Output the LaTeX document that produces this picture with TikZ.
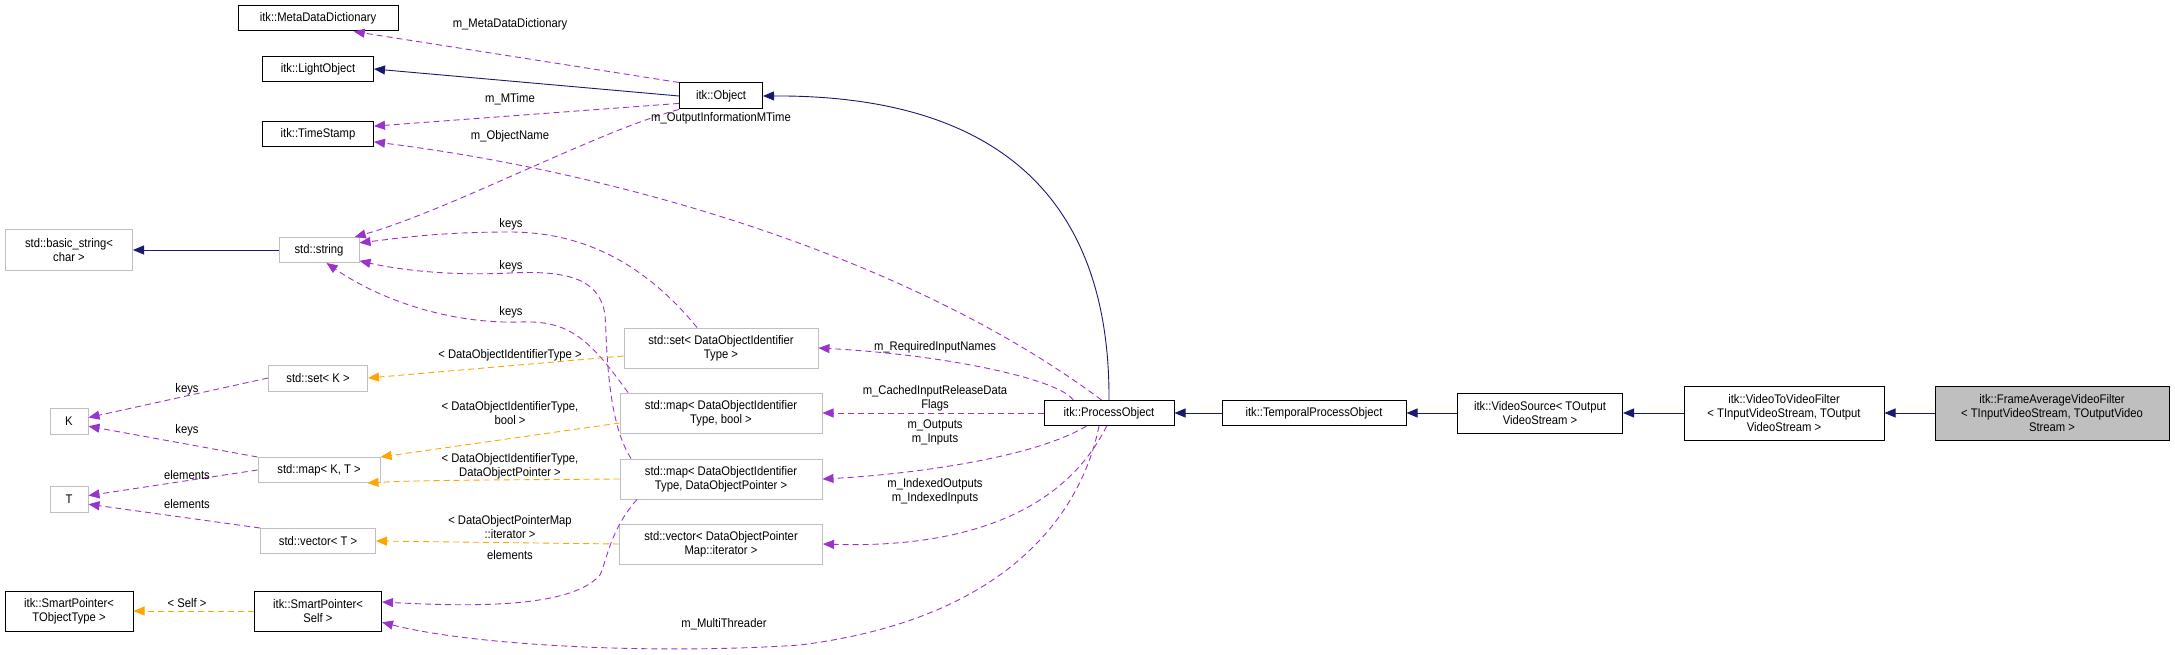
\documentclass[tikz,border=0pt]{standalone}
\usepackage{fontspec}
\setmainfont{Liberation Sans}[FakeStretch=0.9]
\usetikzlibrary{arrows.meta}
\definecolor{inh}{HTML}{191970}
\definecolor{use}{HTML}{9A32CD}
\definecolor{tpl}{HTML}{FFA500}
\definecolor{gb}{HTML}{BFBFBF}
\begin{document}
\begin{tikzpicture}[x=1pt,y=-1pt,font=\fontsize{12.5}{14}\selectfont,
  box/.style={draw=black,line width=1pt,fill=white,align=center,inner sep=1pt},
  sbox/.style={draw=gb,line width=1pt,fill=white,align=center,inner sep=1pt},
  tip/.style={-{Triangle[length=11pt,width=9pt]}},
  inhe/.style={tip,draw=inh,line width=0.9pt},
  usee/.style={tip,draw=use,line width=0.9pt,dash pattern=on 6pt off 4pt},
  tple/.style={tip,draw=tpl,line width=0.9pt,dash pattern=on 6pt off 4pt},
  lab/.style={align=center,inner sep=0pt,font=\fontsize{12.5}{14}\selectfont}]
\useasboundingbox (0,0) rectangle (2175,655);
% nodes
\node[box,minimum width=160,minimum height=25] (meta) at (318,18.5) {itk::MetaDataDictionary};
\node[box,minimum width=111,minimum height=25] (light) at (318,69) {itk::LightObject};
\node[box,minimum width=111,minimum height=25] (ts) at (318,134) {itk::TimeStamp};
\node[box,minimum width=83,minimum height=26] (obj) at (721,96) {itk::Object};
\node[sbox,minimum width=127,minimum height=41] (bstr) at (69,250) {std::basic\_string\textless\\char \textgreater};
\node[sbox,minimum width=80,minimum height=25] (str) at (319,250) {std::string};
\node[sbox,minimum width=99,minimum height=26] (setk) at (318,378) {std::set\textless{} K \textgreater};
\node[sbox,minimum width=38,minimum height=26] (K) at (69,421) {K};
\node[sbox,minimum width=122,minimum height=25] (mapkt) at (319,470) {std::map\textless{} K, T \textgreater};
\node[sbox,minimum width=38,minimum height=26] (T) at (69,499) {T};
\node[sbox,minimum width=115,minimum height=25] (vect) at (318,541) {std::vector\textless{} T \textgreater};
\node[box,minimum width=128,minimum height=40] (spt) at (69,611) {itk::SmartPointer\textless\\TObjectType \textgreater};
\node[box,minimum width=127,minimum height=40] (sps) at (318,611) {itk::SmartPointer\textless\\Self \textgreater};
\node[sbox,minimum width=194,minimum height=40] (sdoit) at (721,348) {std::set\textless{} DataObjectIdentifier\\Type \textgreater};
\node[sbox,minimum width=202,minimum height=40] (mbool) at (721,413) {std::map\textless{} DataObjectIdentifier\\Type, bool \textgreater};
\node[sbox,minimum width=202,minimum height=40] (mdop) at (721,479) {std::map\textless{} DataObjectIdentifier\\Type, DataObjectPointer \textgreater};
\node[sbox,minimum width=203,minimum height=40] (vdopm) at (721,544) {std::vector\textless{} DataObjectPointer\\Map::iterator \textgreater};
\node[box,minimum width=130,minimum height=25] (po) at (1109,413) {itk::ProcessObject};
\node[box,minimum width=184,minimum height=25] (tpo) at (1314,413) {itk::TemporalProcessObject};
\node[box,minimum width=165,minimum height=40] (vs) at (1540,413) {itk::VideoSource\textless{} TOutput\\VideoStream \textgreater};
\node[box,minimum width=200,minimum height=54] (v2v) at (1784,413) {itk::VideoToVideoFilter\\\textless{} TInputVideoStream, TOutput\\VideoStream \textgreater};
\node[box,fill=gb,minimum width=234,minimum height=54] (fav) at (2052,413) {itk::FrameAverageVideoFilter\\\textless{} TInputVideoStream, TOutputVideo\\Stream \textgreater};
% inheritance
\draw[inhe] (obj.west) -- (light.east);
\draw[inhe] (str.west) -- (bstr.east);
\draw[inhe] (po.north) .. controls (1110,200) and (1000,95) .. (obj.east);
\draw[inhe] (tpo.west) -- (po.east);
\draw[inhe] (vs.west) -- (tpo.east);
\draw[inhe] (v2v.west) -- (vs.east);
\draw[inhe] (fav.west) -- (v2v.east);
% usage
\draw[usee] (obj.north west) -- (meta.-20);
\draw[usee] (obj.190) -- (ts.8);
\draw[usee] (obj.south west) .. controls (600,130) and (450,210) .. (str.20);
\draw[usee] (po.120) .. controls (900,250) and (600,170) .. (ts.-8);
\draw[usee] ([xshift=-24pt]sdoit.north) .. controls (650,270) and (590,232) .. (510,232) .. controls (440,232) and (400,238) .. (str.10);
\draw[usee] ([xshift=-90pt]mdop.north) .. controls (606,420) and (607,340) .. (605,315) .. controls (600,280) and (570,270) .. (510,273) .. controls (450,276) and (400,270) .. (str.-15);
\draw[usee] ([xshift=-93pt]mbool.north) .. controls (590,340) and (570,320) .. (520,322) .. controls (450,324) and (380,300) .. (str.-60);
\draw[usee] ([xshift=-84pt]mdop.south) .. controls (610,530) and (607,560) .. (600,575) .. controls (570,610) and (460,606) .. (sps.8);
\draw[usee] ([xshift=-10pt]po.south) .. controls (1080,520) and (1000,620) .. (800,645) .. controls (650,655) and (470,645) .. (sps.-10);
\draw[usee] (po.160) .. controls (1060,380) and (950,355) .. (sdoit.east);
\draw[usee] (po.west) -- (mbool.east);
\draw[usee] (po.-150) .. controls (1030,460) and (900,475) .. (mdop.east);
\draw[usee] (po.-100) .. controls (1060,520) and (950,548) .. (vdopm.east);
\draw[usee] (setk.west) -- (K.10);
\draw[usee] (mapkt.north west) -- (K.-15);
\draw[usee] (mapkt.west) -- (T.10);
\draw[usee] (vect.north west) -- (T.-15);
% template
\draw[tple] ([yshift=-8pt]sdoit.west) -- (setk.east);
\draw[tple] ([yshift=-10pt]mbool.west) -- (mapkt.north east);
\draw[tple] (mdop.west) .. controls (500,480) and (420,480) .. (mapkt.-15);
\draw[tple] (vdopm.west) -- (vect.east);
\draw[tple] (sps.west) -- (spt.east);
% labels
\node[lab] (l1) at (510,24) {m\_MetaDataDictionary};
\node[lab] (l2) at (510,99) {m\_MTime};
\node[lab] (l3) at (510,136) {m\_ObjectName};
\node[lab] (l4) at (721,118) {m\_OutputInformationMTime};
\node[lab] (l5) at (511,224) {keys};
\node[lab] (l6) at (511,266) {keys};
\node[lab] (l7) at (511,312) {keys};
\node[lab] (l8) at (510,355) {\textless{} DataObjectIdentifierType \textgreater};
\node[lab] (l9) at (187,389) {keys};
\node[lab] (l10) at (187,430) {keys};
\node[lab] (l11) at (510,413) {\textless{} DataObjectIdentifierType,\\bool \textgreater};
\node[lab] (l12) at (510,466) {\textless{} DataObjectIdentifierType,\\DataObjectPointer \textgreater};
\node[lab] (l13) at (187,475) {elements};
\node[lab] (l14) at (187,504) {elements};
\node[lab] (l15) at (510,527) {\textless{} DataObjectPointerMap\\::iterator \textgreater};
\node[lab] (l16) at (510,555) {elements};
\node[lab] (l17) at (187,603) {\textless{} Self \textgreater};
\node[lab] (l18) at (724,624) {m\_MultiThreader};
\node[lab] (l19) at (935,347) {m\_RequiredInputNames};
\node[lab] (l20) at (935,398) {m\_CachedInputReleaseData\\Flags};
\node[lab] (l21) at (935,432) {m\_Outputs\\m\_Inputs};
\node[lab] (l22) at (935,491) {m\_IndexedOutputs\\m\_IndexedInputs};
\end{tikzpicture}
\end{document}
